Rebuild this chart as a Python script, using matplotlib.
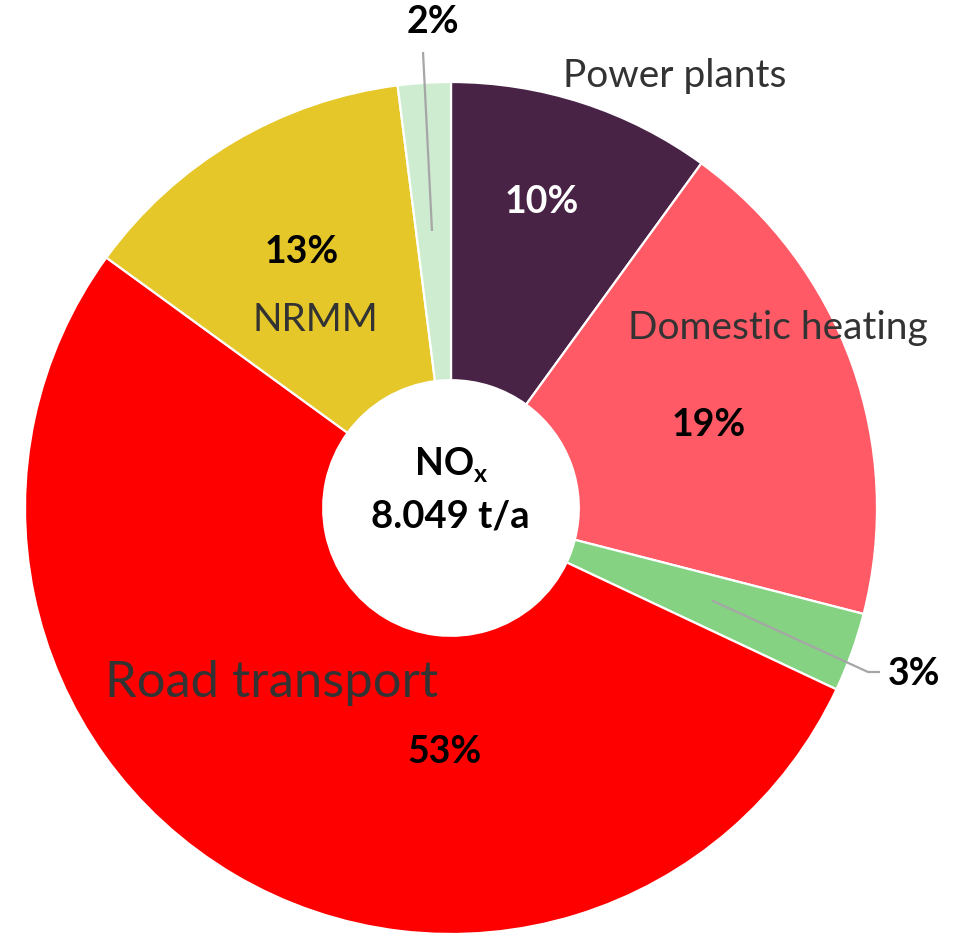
import matplotlib
matplotlib.use("Agg")
import matplotlib.pyplot as plt

# ---- data ----
categories = ["Power plants", "Domestic heating", "Other (3%)", "Road transport", "NRMM", "Other (2%)"]
shares = [10, 19, 3, 53, 13, 2]
pct_labels = ["10%", "19%", "3%", "53%", "13%", "2%"]
colors = ["#482346", "#FF5A66", "#84D282", "#FF0000", "#E5C72A", "#CDECD0"]
center_title = "NO"
center_sub = "x"
center_value = "8.049 t/a"

W, H = 960, 934
CX, CY, R = 451, 508, 426  # pixel centre and radius of the donut

def P(x, y):
    """pixel (from top-left) -> data coords"""
    return ((x - CX) / R, (CY - y) / R)

fig = plt.figure(figsize=(W / 100, H / 100), dpi=100)
ax = fig.add_axes([0, 0, 1, 1])
ax.pie(shares, colors=colors, startangle=90, counterclock=False, radius=1.0,
       wedgeprops=dict(width=0.70, edgecolor="white", linewidth=1.6))
ax.set_xlim(-CX / R, (W - CX) / R)
ax.set_ylim(-(H - CY) / R, CY / R)
ax.set_aspect("equal")
ax.axis("off")

LAB = "Lato"
dark = "#333333"
bold_kw = dict(fontfamily=LAB, fontweight="bold", ha="center", va="center")
name_kw = dict(fontfamily=LAB, color=dark, ha="center", va="center")

# category names
ax.text(*P(675, 76), categories[0], fontsize=28, **name_kw)
ax.text(*P(778, 328), categories[1], fontsize=28, **name_kw)
ax.text(*P(272, 683), categories[3], fontsize=36.5, **name_kw)
ax.text(*P(315, 320), categories[4], fontsize=28, **name_kw)

# percentages
PS = 27
ax.text(*P(542, 202), pct_labels[0], fontsize=PS, color="white", **bold_kw)
ax.text(*P(709, 425), pct_labels[1], fontsize=PS, color="black", **bold_kw)
ax.text(*P(445, 752), pct_labels[3], fontsize=PS, color="black", **bold_kw)
ax.text(*P(302, 252), pct_labels[4], fontsize=PS, color="black", **bold_kw)
ax.text(*P(433, 22), pct_labels[5], fontsize=PS, color="black", **bold_kw)
ax.text(*P(888, 674), pct_labels[2], fontsize=PS, color="black",
        fontfamily=LAB, fontweight="bold", ha="left", va="center")

# leader lines
lc = "#A6A6A6"
x1, y1 = P(423, 52); x2, y2 = P(432, 231)
ax.plot([x1, x2], [y1, y2], color=lc, lw=1.6, solid_capstyle="butt")
a = P(713, 601); b = P(868, 672); c = P(879, 672)
ax.plot([a[0], b[0], c[0]], [a[1], b[1], c[1]], color=lc, lw=1.6)

# centre text
ax.text(*P(474, 464), center_title, fontsize=27, ha="right", va="center",
        fontfamily=LAB, fontweight="bold", color="black")
ax.text(*P(474, 475), center_sub, fontsize=18, ha="left", va="center",
        fontfamily=LAB, fontweight="bold", color="black")
ax.text(*P(450, 517), center_value, fontsize=27.5, **bold_kw, color="black")

fig.savefig("out.png", dpi=100)
